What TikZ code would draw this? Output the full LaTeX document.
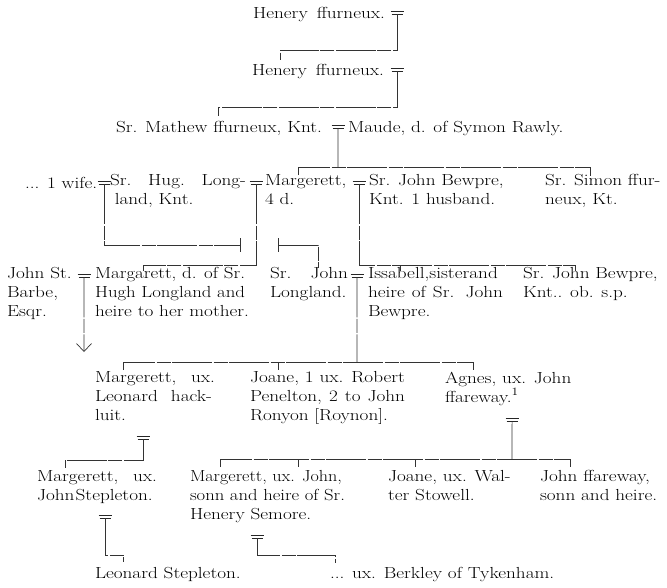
\documentclass[tikz,border=0pt]{standalone}
\usepackage{fontspec}
\usepackage{graphicx}
\usetikzlibrary{arrows.meta}
\newlength\jlwidth
\newlength\jltarget
\newcommand\jl[2]{\setlength\jltarget{\dimexpr #1pt*5/6\relax}\settowidth\jlwidth{#2}\ifdim\jlwidth>\jltarget\resizebox{\jltarget}{\height}{#2}\else\makebox[\jltarget][s]{#2}\fi}
\begin{document}
\begin{tikzpicture}[x=0.833333pt,y=-1pt,xscale=1.2,
  font=\fontsize{16}{19}\selectfont,
  every node/.append style={transform shape},
  txt/.style={anchor=north west, yshift=13.3pt, inner sep=0pt, outer sep=0pt, align=left, execute at begin node=\strut, text=black},
  ln/.style={line width=0.7pt, draw=black!80, dash pattern=on 40pt off 1.5pt on 14pt off 1.5pt},
  tk/.style={line width=0.7pt, draw=black!80},
  marr/.pic={\draw[line width=0.55pt, black!85] (-6.5,-1.5) -- (6.5,-1.5) (-5.5,1.3) -- (5.5,1.3);}]
\useasboundingbox (0,0) rectangle (667,587);
% ---------- texts ----------
\node[txt] (h1) at (253,18) {\jl{132}{Henery ffurneux.}};
\node[txt] (h2) at (252,75) {\jl{132}{Henery ffurneux.}};
\node[txt] (mat) at (116,132) {Sr. Mathew ffurneux, Knt.};
\node[txt] (mau) at (348,132) {Maude, d. of Symon Rawly.};
\node[txt] (w1) at (25,188) {... 1 wife.};
\node[txt] (hug) at (110,188) {\jl{136}{Sr. Hug. Long-}\\ \hspace{4pt}land, Knt.};
\node[txt] (mg4) at (265,188) {Margerett,\\ 4 d.};
\node[txt] (jb1) at (369,188) {Sr. John Bewpre,\\ Knt. 1 husband.};
\node[txt] (sim) at (545,188) {Sr. Simon ffur-\\ neux, Kt.};
\node[txt] (jsb) at (7,281) {John St.\\ Barbe,\\ Esqr.};
\node[txt] (mgd) at (95,281) {\jl{150}{Margarett, d. of Sr.}\\ \jl{150}{Hugh Longland and}\\ heire to her mother.};
\node[txt] (jl) at (270,281) {\jl{78}{Sr. John}\\ Longland.};
\node[txt] (iss) at (368,281) {Issabell,sisterand\\ \jl{135}{heire of Sr. John}\\ Bewpre.};
\node[txt] (jb2) at (523,281) {Sr. John Bewpre,\\ Knt.. ob. s.p.};
\node[txt] (mh) at (95,385) {\jl{120}{Margerett, ux.}\\ \jl{117}{Leonard hack-}\\ luit.};
\node[txt] (jo1) at (250,385) {\jl{155}{Joane, 1 ux. Robert}\\ \jl{155}{Penelton, 2 to John}\\ Ronyon [Roynon].};
\node[txt] (ag) at (445,385) {Agnes, ux. John\\ ffareway.\textsuperscript{1}};
\node[txt] (ms) at (37,484) {\jl{120}{Margerett, ux.}\\ John\hspace{1pt}Stepleton.};
\node[txt] (mse) at (190,484) {\jl{152}{Margerett, ux. John,}\\ \jl{155}{sonn and heire of Sr.}\\ Henery Semore.};
\node[txt] (jo2) at (388,484) {Joane, ux. Wal-\\ ter Stowell.};
\node[txt] (jf) at (540,484) {John ffareway,\\ sonn and heire.};
\node[txt] (ls) at (95,578) {Leonard Stepleton.};
\node[txt] (bk) at (330,578) {... ux. Berkley of Tykenham.};
% ---------- marriage signs ----------
\pic at (397,13) {marr}; \coordinate (m1) at (397,14.3);
\pic at (397,70) {marr}; \coordinate (m2) at (397,71.3);
\pic at (338,127) {marr}; \coordinate (m3) at (338,128.3);
\pic at (104,183) {marr}; \coordinate (m4a) at (104,184.3);
\pic at (256,183) {marr}; \coordinate (m4b) at (256,184.3);
\pic at (359,183) {marr}; \coordinate (m4c) at (359,184.3);
\pic at (84,276) {marr}; \coordinate (m5a) at (84,277.3);
\pic at (357,276) {marr}; \coordinate (m5b) at (357,277.3);
\pic at (143,438) {marr}; \coordinate (m6a) at (143,439.3);
\pic at (512,420) {marr}; \coordinate (m6b) at (512,421.3);
\pic at (105,517) {marr}; \coordinate (m7a) at (105,518.3);
\pic at (257,537) {marr}; \coordinate (m7b) at (257,538.3);
% ---------- connectors ----------
\draw[ln] (m1) |- (280,50) -- (280,60);
\draw[ln] (m2) |- (218,107) -- (218,116);
\draw[ln] (m3) -- (338,167);
\draw[ln] (298,175) |- (590,167) -- (590,176);
\draw[ln] (m4a) |- (240,245);
\draw[tk] (240,238) -- (240,252);
\draw[tk] (278,238) -- (278,252);
\draw[ln] (278,245) -| (318,268);
\draw[ln] (m4b) |- (143,265) -- (143,271);
\draw[ln] (m4c) |- (575,265) -- (575,271);
\draw[tk] (400,265) -- (400,271);
\draw[ln,-{Straight Barb[length=8pt,width=15pt]}] (m5a) -- (84,352);
\draw[ln] (m5b) -- (357,362);
\draw[ln] (123,370) |- (473,362) -- (473,370);
\draw[tk] (278,362) -- (278,370);
\draw[ln] (m6a) |- (65,460) -- (65,468);
\draw[ln] (m6b) -- (512,459);
\draw[ln] (220,467) |- (570,459) -- (570,467);
\draw[tk] (298,459) -- (298,467);
\draw[tk] (415,459) -- (415,467);
\draw[ln] (m7a) |- (123,555) -- (123,562);
\draw[ln] (m7b) |- (335,555) -- (335,563);
\end{tikzpicture}
\end{document}
